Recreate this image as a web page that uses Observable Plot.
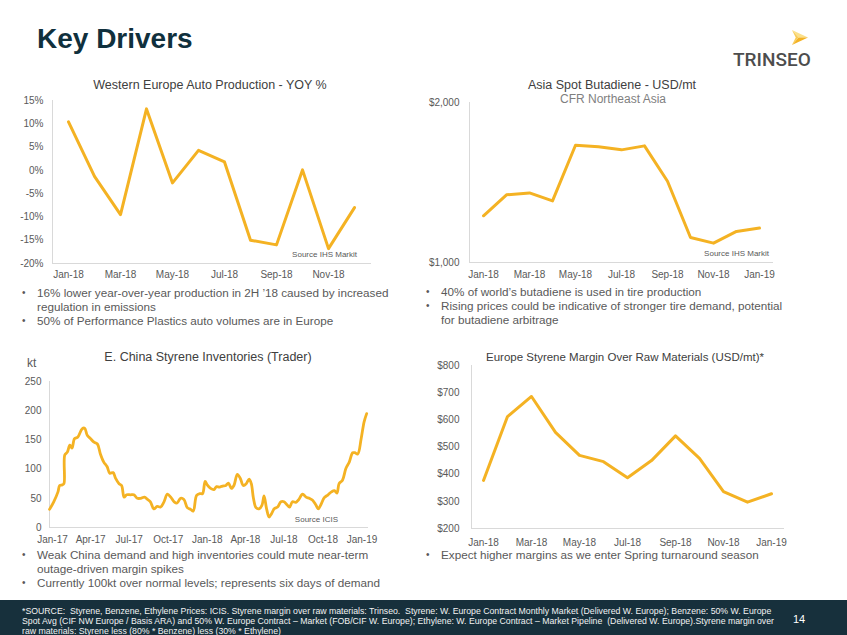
<!DOCTYPE html>
<html><head><meta charset="utf-8">
<script src="https://cdn.jsdelivr.net/npm/d3@7"></script>
<script src="https://cdn.jsdelivr.net/npm/@observablehq/plot@0.6"></script>
<style>
body{margin:0;background:#fff;}
#page{position:relative;width:847px;height:635px;overflow:hidden;font-family:"Liberation Sans",Arial,sans-serif;color:#595959;background:#fff;}
.abs{position:absolute;}
.ctitle{position:absolute;width:400px;text-align:center;font-size:12.5px;line-height:14px;color:#404040;white-space:nowrap;}
.src{position:absolute;font-size:8px;line-height:10px;color:#595959;white-space:nowrap;text-align:right;width:120px;}
.bul{position:absolute;font-size:11.7px;line-height:14px;color:#595959;white-space:nowrap;}
.bul div{position:relative;padding-left:15px;}
.bul div.b::before{content:"\2022";position:absolute;left:0;top:0;font-size:10px;}
</style></head>
<body>
<div id="page">
  <div class="abs" style="left:37px;top:22px;font-size:28px;font-weight:bold;color:#10303d;line-height:34px;white-space:nowrap;">Key Drivers</div>
  <svg class="abs" style="left:790px;top:29px" width="20" height="17" viewBox="0 0 21 18">
    <polygon points="2,1 19,9 9,9" fill="#fbe08a"/>
    <polygon points="9,9 19,9 2,17" fill="#f4b223"/>
    <polygon points="2,1 9,9 2,17 6,9" fill="#f8cb55"/>
  </svg>
  <div class="abs" style="left:733px;top:50px;font-family:Roboto,'Liberation Sans',sans-serif;font-weight:500;font-size:19px;line-height:20px;color:#4d4d4d;white-space:nowrap;">TRINSEO</div>

  <div class="ctitle" style="left:10px;top:78px;">Western Europe Auto Production - YOY %</div>
  <div class="ctitle" style="left:412px;top:78px;">Asia Spot Butadiene - USD/mt</div>
  <div class="ctitle" style="left:413px;top:92px;color:#7f7f7f;font-size:12px;">CFR Northeast Asia</div>
  <div class="ctitle" style="left:8px;top:350px;">E. China Styrene Inventories (Trader)</div>
  <div class="ctitle" style="left:425px;top:350px;font-size:11.5px;">Europe Styrene Margin Over Raw Materials (USD/mt)*</div>
  <div class="abs" style="left:27px;top:356px;font-size:12px;line-height:14px;color:#595959;">kt</div>

  <div id="c1" class="abs" style="left:0;top:90px;"></div>
  <div id="c2" class="abs" style="left:420px;top:90px;"></div>
  <div id="c3" class="abs" style="left:0;top:370px;"></div>
  <div id="c4" class="abs" style="left:420px;top:355px;"></div>

  <div class="src" style="left:237px;top:250px;">Source IHS Markit</div>
  <div class="src" style="left:649px;top:249px;">Source IHS Markit</div>
  <div class="src" style="left:218px;top:515px;">Source ICIS</div>

  <div class="bul" style="left:22px;top:286px;">
    <div class="b">16% lower year-over-year production in 2H ’18 caused by increased<br>regulation in emissions</div>
    <div class="b">50% of Performance Plastics auto volumes are in Europe</div>
  </div>
  <div class="bul" style="left:426px;top:285px;">
    <div class="b">40% of world’s butadiene is used in tire production</div>
    <div class="b">Rising prices could be indicative of stronger tire demand, potential<br>for butadiene arbitrage</div>
  </div>
  <div class="bul" style="left:22px;top:548px;">
    <div class="b">Weak China demand and high inventories could mute near-term<br>outage-driven margin spikes</div>
    <div class="b">Currently 100kt over normal levels; represents six days of demand</div>
  </div>
  <div class="bul" style="left:426px;top:548px;">
    <div class="b">Expect higher margins as we enter Spring turnaround season</div>
  </div>

  <div class="abs" style="left:0;top:600px;width:847px;height:35px;background:#17303c;overflow:hidden;">
    <div id="ftext" style="position:absolute;left:22px;top:6px;font-family:'Liberation Sans Narrow','Arial Narrow','Liberation Sans',sans-serif;font-size:9.5px;line-height:10px;color:#f2f2f2;white-space:pre;transform-origin:0 0;">*SOURCE:  Styrene, Benzene, Ethylene Prices: ICIS. Styrene margin over raw materials: Trinseo.  Styrene: W. Europe Contract Monthly Market (Delivered W. Europe); Benzene: 50% W. Europe
Spot Avg (CIF NW Europe / Basis ARA) and 50% W. Europe Contract – Market (FOB/CIF W. Europe); Ethylene: W. Europe Contract – Market Pipeline  (Delivered W. Europe).Styrene margin over
raw materials: Styrene less (80% * Benzene) less (30% * Ethylene)</div>
    <div style="position:absolute;left:793px;top:13px;font-size:11px;line-height:13px;color:#fff;">14</div>
  </div>
</div>
<script>
const LINE = "#f4b223";
const AXIS = "#d9d9d9";

// Western Europe Auto Production - YOY %
const months18 = ["Jan-18","Feb-18","Mar-18","Apr-18","May-18","Jun-18","Jul-18","Aug-18","Sep-18","Oct-18","Nov-18","Dec-18"];
const autoYoy = [10.4, -1.3, -9.5, 13.2, -2.7, 4.3, 1.8, -15.0, -16.0, 0.1, -16.8, -8.0];
const autoTicks = [-20, -15, -10, -5, 0, 5, 10, 15];

// Asia Spot Butadiene - USD/mt
const months1819 = [...months18, "Jan-19"];
const butadiene = [1292, 1423, 1435, 1385, 1733, 1723, 1704, 1729, 1508, 1156, 1121, 1194, 1215];
const butadieneTicks = [1000, 2000];

// Europe Styrene Margin Over Raw Materials
const styreneMargin = [377, 612, 686, 554, 469, 446, 387, 450, 541, 458, 336, 297, 328];
const marginTicks = [200, 300, 400, 500, 600, 700, 800];

// E. China Styrene Inventories (Trader), kt
const invDates = ["2016-12-25","2017-01-04","2017-01-14","2017-01-18","2017-01-24","2017-01-28","2017-01-30","2017-02-05","2017-02-11","2017-02-16","2017-02-22","2017-03-02","2017-03-12","2017-03-18","2017-03-24","2017-04-01","2017-04-09","2017-04-17","2017-04-24","2017-05-02","2017-05-10","2017-05-16","2017-05-24","2017-05-30","2017-06-07","2017-06-13","2017-06-19","2017-06-25","2017-07-04","2017-07-12","2017-07-20","2017-07-28","2017-08-06","2017-08-13","2017-08-20","2017-08-28","2017-09-05","2017-09-13","2017-09-21","2017-09-29","2017-10-07","2017-10-15","2017-10-22","2017-10-30","2017-11-07","2017-11-15","2017-11-23","2017-11-29","2017-12-07","2017-12-15","2017-12-21","2017-12-27","2018-01-01","2018-01-09","2018-01-17","2018-01-23","2018-01-30","2018-02-06","2018-02-14","2018-02-20","2018-02-27","2018-03-05","2018-03-13","2018-03-20","2018-03-27","2018-04-03","2018-04-10","2018-04-15","2018-04-20","2018-04-26","2018-05-03","2018-05-10","2018-05-15","2018-05-21","2018-05-27","2018-06-02","2018-06-08","2018-06-16","2018-06-24","2018-07-01","2018-07-08","2018-07-14","2018-07-21","2018-07-29","2018-08-04","2018-08-14","2018-08-22","2018-08-30","2018-09-06","2018-09-14","2018-09-20","2018-09-26","2018-10-04","2018-10-13","2018-10-21","2018-10-28","2018-11-03","2018-11-08","2018-11-16","2018-11-24","2018-12-02","2018-12-10","2018-12-15","2018-12-22","2018-12-30","2019-01-06","2019-01-12"];
const invValues = [31,44,61,72,73,75,124,129,141,136,152,155,169,170,158,152,146,143,126,112,104,93,94,84,75,72,52,56,56,56,50,50,52,48,44,32,36,35,44,57,52,44,42,50,48,34,31,28,55,58,58,79,73,67,65,70,69,71,72,76,67,72,91,84,72,75,83,75,50,34,32,38,54,32,18,24,32,35,44,44,39,35,44,43,47,57,52,50,47,39,32,39,51,56,61,63,59,75,81,101,112,128,128,126,152,181,195];
const invTickDates = ["2017-01-01","2017-04-01","2017-07-01","2017-10-01","2018-01-01","2018-04-01","2018-07-01","2018-10-01","2019-01-01"];
const invTicks = [0, 50, 100, 150, 200, 250];

const baseStyle = {fontFamily: "'Liberation Sans', Arial, sans-serif", fontSize: "10px", color: "#595959", background: "transparent", overflow: "visible"};

function monthlyChart({months, values, yDomain, yTicks, yFormat, width, height, ml, mr, mt, mb, yPad, xPad}) {
  const data = months.map((m, i) => ({m, v: values[i]}));
  return Plot.plot({
    width, height, marginLeft: ml, marginRight: mr, marginTop: mt, marginBottom: mb,
    style: baseStyle,
    x: {type: "point", domain: months, padding: 0.5},
    y: {domain: yDomain},
    marks: [
      Plot.frame({anchor: "left", stroke: AXIS}),
      Plot.frame({anchor: "bottom", stroke: AXIS}),
      Plot.axisY({ticks: yTicks, tickFormat: yFormat, tickSize: 0, tickPadding: yPad, label: null}),
      Plot.axisX({ticks: months.filter((d, i) => i % 2 === 0), tickSize: 0, tickPadding: xPad, label: null}),
      Plot.line(data, {x: "m", y: "v", stroke: LINE, strokeWidth: 3, strokeLinejoin: "round", strokeLinecap: "round"})
    ]
  });
}

document.getElementById("c1").append(monthlyChart({
  months: months18, values: autoYoy, yDomain: [-20, 15], yTicks: autoTicks, yFormat: d => d + "%",
  width: 420, height: 200, ml: 52, mr: 50, mt: 10, mb: 27, yPad: 9, xPad: 7
}));

document.getElementById("c2").append(monthlyChart({
  months: months1819, values: butadiene, yDomain: [1000, 2000], yTicks: butadieneTicks, yFormat: d => "$" + d3.format(",")(d),
  width: 427, height: 200, ml: 49, mr: 75, mt: 12, mb: 28, yPad: 10, xPad: 8
}));

document.getElementById("c4").append(monthlyChart({
  months: months1819, values: styreneMargin, yDomain: [200, 800], yTicks: marginTicks, yFormat: d => "$" + d,
  width: 427, height: 195, ml: 51, mr: 64, mt: 10, mb: 22, yPad: 12, xPad: 10
}));

const inv = invDates.map((d, i) => ({date: new Date(d + "T00:00:00Z"), v: invValues[i]}));
document.getElementById("c3").append(Plot.plot({
  width: 420, height: 180, marginLeft: 49, marginRight: 53, marginTop: 11, marginBottom: 23,
  style: baseStyle,
  x: {type: "utc", domain: [new Date("2016-12-25T00:00:00Z"), new Date("2019-01-14T00:00:00Z")]},
  y: {domain: [0, 250]},
  marks: [
    Plot.frame({anchor: "left", stroke: AXIS}),
    Plot.frame({anchor: "bottom", stroke: AXIS}),
    Plot.axisY({ticks: invTicks, tickSize: 0, tickPadding: 8, label: null}),
    Plot.axisX({ticks: invTickDates.map(d => new Date(d + "T00:00:00Z")), tickFormat: d3.utcFormat("%b-%y"), tickSize: 0, tickPadding: 8, label: null}),
    Plot.line(inv, {x: "date", y: "v", stroke: LINE, strokeWidth: 2.8, curve: "catmull-rom", strokeLinejoin: "round"})
  ]
}));

// fit the condensed footnote to its width in the reference
const ft = document.getElementById("ftext");
const w = ft.getBoundingClientRect().width;
ft.style.transform = `scaleX(${752 / w})`;
</script>
</body></html>
